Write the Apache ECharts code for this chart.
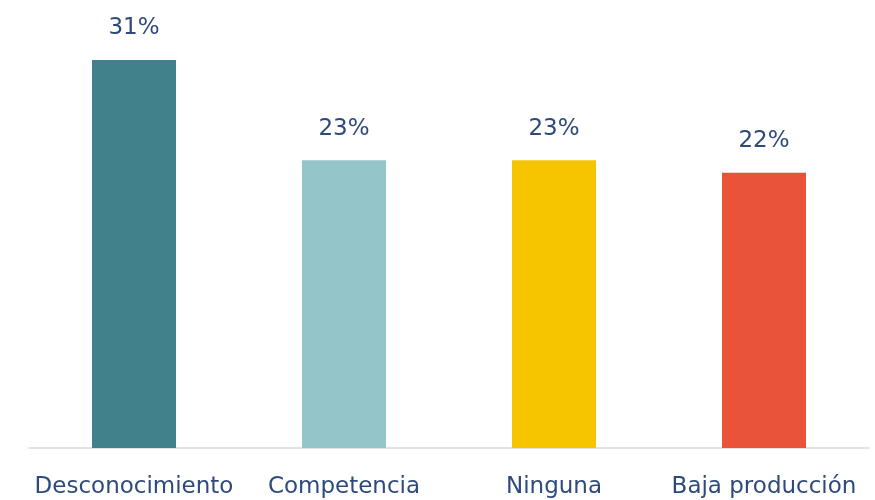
<!DOCTYPE html>
<html><head><meta charset="utf-8">
<script src="https://cdn.jsdelivr.net/npm/echarts@6/dist/echarts.min.js"></script>
<style>html,body{margin:0;padding:0;background:#fff}#c{width:875px;height:500px}</style>
</head><body><div id="c"></div>
<script>
const categories = ["Desconocimiento", "Competencia", "Ninguna", "Baja producción"];
const values = [31, 23, 23, 22];
const barColors = ["#41818B", "#94C5C9", "#F6C500", "#E8533A"];
const chart = echarts.init(document.getElementById('c'));
chart.setOption({
  animation: false,
  grid: {left: 29, right: 6, top: 60, bottom: 52},
  xAxis: {
    type: 'category', data: categories,
    axisLine: {lineStyle: {color: '#D9D9D9', width: 1.5}},
    axisTick: {show: false},
    axisLabel: {interval: 0, hideOverlap: false, margin: 28, color: '#2E4A7D', fontSize: 23, fontFamily: 'DejaVu Sans'}
  },
  yAxis: {type: 'value', min: 0, max: 31, show: false, splitLine: {show: false}},
  series: [{
    type: 'bar', barWidth: '40%',
    data: values.map((v, i) => ({value: v, itemStyle: {color: barColors[i]}})),
    label: {show: true, position: 'top', distance: 20, formatter: '{c}%', color: '#2E4A7D', fontSize: 23, fontFamily: 'DejaVu Sans'}
  }]
});
</script></body></html>
